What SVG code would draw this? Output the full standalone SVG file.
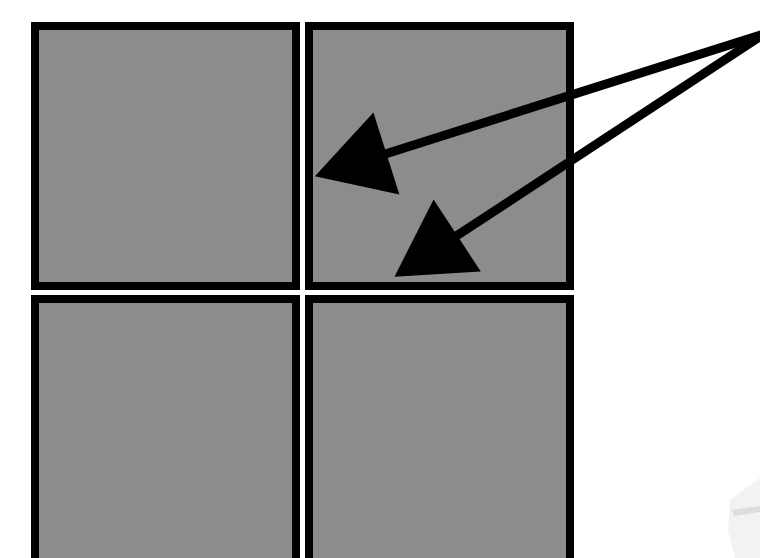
<svg xmlns="http://www.w3.org/2000/svg" width="760" height="558" viewBox="0 0 760 558">
  <style>
    .sq { fill: #8c8c8c; stroke: #000; stroke-width: 8; }
    .arrow { stroke: #000; stroke-width: 9; fill: none; marker-end: url(#head); }
  </style>
  <defs>
    <marker id="head" markerUnits="userSpaceOnUse" markerWidth="80" markerHeight="90" refX="2" refY="44" orient="auto" overflow="visible">
      <path d="M0,1 L75,44 L0,87 Z" fill="#000"/>
    </marker>
  </defs>
  <rect width="760" height="558" fill="#fff"/>
  <g id="square-top-left"><rect class="sq" x="35" y="26" width="261" height="260"/></g>
  <g id="square-top-right"><rect class="sq" x="309" y="26" width="261" height="260"/></g>
  <g id="square-bottom-left"><rect class="sq" x="35" y="299" width="261" height="275"/></g>
  <g id="square-bottom-right"><rect class="sq" x="309" y="299" width="261" height="275"/></g>
  <g id="connectors">
    <line class="arrow" x1="764" y1="34" x2="384.5" y2="154.2"/>
    <line class="arrow" x1="764" y1="34" x2="455.5" y2="236.6"/>
  </g>
  <g id="corner-object" opacity="0.5">
    <path d="M730,500 L760,478 L760,558 L735,558 L728,530 Z" fill="#e6e6e6"/>
    <path d="M732,510 L760,506 L760,512 L734,516 Z" fill="#bdbdbd"/>
  </g>
</svg>
